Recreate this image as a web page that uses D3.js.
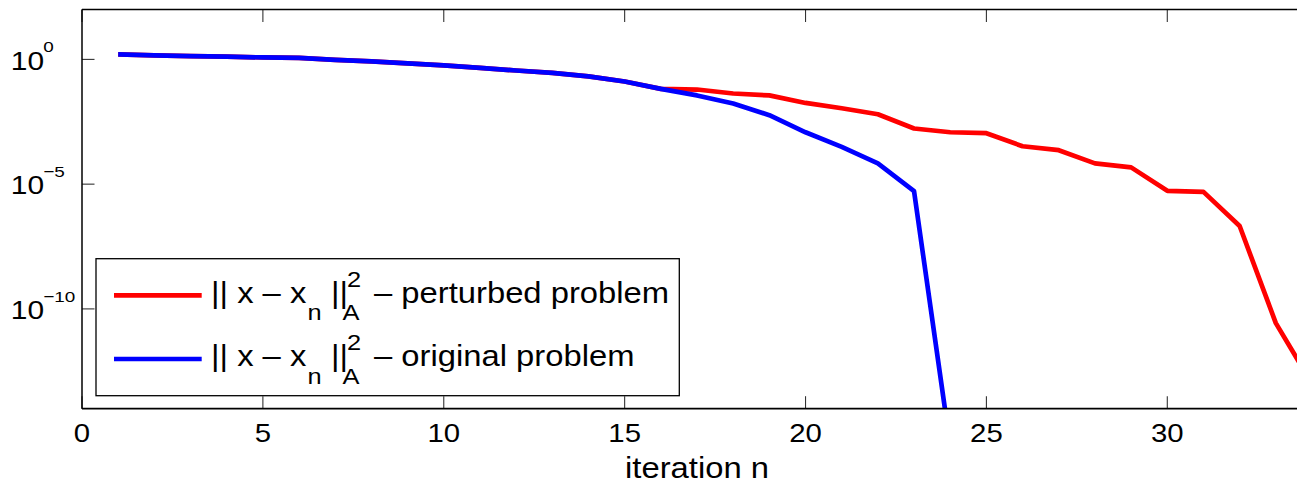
<!DOCTYPE html>
<html>
<head>
<meta charset="utf-8">
<script src="https://cdn.jsdelivr.net/npm/d3@7"></script>
<style>
  html, body { margin: 0; padding: 0; background: #fff; }
  svg { display: block; }
  text { font-family: "Liberation Sans", Arial, Helvetica, sans-serif; fill: #000; white-space: pre; }
</style>
</head>
<body>
<svg id="chart" width="1297" height="485"></svg>
<script>
// ---------------- data ----------------
const iterPerturbed = [1,2,3,4,5,6,7,8,9,10,11,12,13,14,15,16,17,18,19,20,21,22,23,24,25,26,27,28,29,30,31,32,33,34];
const errPerturbed  = [1.58,1.45,1.35,1.29,1.2,1.15,0.95,0.83,0.69,0.58,0.46,0.36,0.29,0.21,0.13,0.066,
                       0.062,0.043,0.036,0.018,0.011,6.3e-3,1.7e-3,1.2e-3,1.1e-3,3.3e-4,2.3e-4,6.8e-5,4.7e-5,
                       5.4e-6,4.9e-6,2.1e-7,2.7e-11,1e-13];
const iterOriginal  = [1,2,3,4,5,6,7,8,9,10,11,12,13,14,15,16,17,18,19,20,21,22,23,24];
const errOriginal   = [1.58,1.45,1.35,1.29,1.2,1.15,0.95,0.83,0.69,0.58,0.46,0.36,0.29,0.21,0.13,0.066,
                       0.036,0.017,5.8e-3,1.2e-3,3.1e-4,6.8e-5,5.2e-6,3.2e-16];
const xTicks = [0,5,10,15,20,25,30];
const yTicks = [1e0,1e-5,1e-10];
const yTickExponents = ["0","\u22125","\u221210"];
const seriesNames = ["perturbed problem","original problem"];
const seriesColors = ["#ff0000","#0000ff"];
const xLabel = "iteration n";

// ---------------- layout ----------------
const svg = d3.select("#chart");
const L = 82, T = 9.5, B = 408.7, R = 1312;
const x = d3.scaleLinear().domain([0,34]).range([L,R]);
const y = d3.scaleLog().domain([1e-14,1e2]).range([B,T]);
const SX = 1.13; // horizontal stretch of the reference's glyphs

function txt(parent, str, tx, ty, size, anchor, sx) {
  return parent.append("text")
    .attr("transform", `translate(${tx},${ty}) scale(${sx || SX},1)`)
    .attr("x",0).attr("y",0).attr("font-size",size)
    .attr("text-anchor", anchor || "start").text(str);
}

svg.append("defs").append("clipPath").attr("id","clip")
  .append("rect").attr("x",L).attr("y",T).attr("width",R-L).attr("height",B-T);

// ticks (inward, bottom + top, left)
const tickLen = 12.5;
const tickG = svg.append("g").attr("stroke","#333").attr("stroke-width",1.1);
xTicks.forEach(t => {
  tickG.append("line").attr("x1",x(t)).attr("x2",x(t)).attr("y1",B).attr("y2",B-tickLen);
  tickG.append("line").attr("x1",x(t)).attr("x2",x(t)).attr("y1",T).attr("y2",T+tickLen);
});
yTicks.forEach(t => {
  tickG.append("line").attr("x1",L).attr("x2",L+tickLen).attr("y1",y(t)).attr("y2",y(t));
});

// lines
const line = d3.line().x(d => x(d[0])).y(d => y(d[1]));
const plotG = svg.append("g").attr("clip-path","url(#clip)");
const dataSets = [
  d3.zip(iterPerturbed, errPerturbed),
  d3.zip(iterOriginal, errOriginal)
];
dataSets.forEach((ds,i) => {
  plotG.append("path").datum(ds).attr("d",line)
    .attr("fill","none").attr("stroke",seriesColors[i])
    .attr("stroke-width",4.7).attr("stroke-linejoin","round");
});

// axes box (left, top, bottom)
svg.append("line").attr("x1",L).attr("x2",L).attr("y1",T).attr("y2",B)
  .attr("stroke","#000").attr("stroke-width",1.5);
svg.append("line").attr("x1",L).attr("x2",R).attr("y1",T).attr("y2",T)
  .attr("stroke","#000").attr("stroke-width",1.5);
svg.append("line").attr("x1",L).attr("x2",R).attr("y1",B).attr("y2",B)
  .attr("stroke","#000").attr("stroke-width",1.8);

// x tick labels
xTicks.forEach(t => txt(svg, String(t), x(t), 442.3, 26, "middle"));
// x label
txt(svg, xLabel, 697, 478.3, 29, "middle");

// y tick labels
yTicks.forEach((t,i) => {
  txt(svg, "10", 10.8, y(t)+10.3, 26.5, "start");
  txt(svg, yTickExponents[i], 43.3, y(t)-7.2, 15.5, "start", 1.22);
});

// legend
const lg = svg.append("g");
lg.append("rect").attr("x",96).attr("y",258.7).attr("width",583.3).attr("height",137)
  .attr("fill","#fff").attr("stroke","#000").attr("stroke-width",1.3);
const rowY = [295.3, 359];
seriesNames.forEach((name,i) => {
  const dy = rowY[i] - rowY[0];
  lg.append("line").attr("x1",114).attr("x2",201.7).attr("y1",rowY[i]).attr("y2",rowY[i])
    .attr("stroke",seriesColors[i]).attr("stroke-width",4.7);
  txt(lg, "|| x \u2013 x", 211, 302.5 + dy, 29);
  txt(lg, "n", 307.5, 320 + dy, 22.5);
  txt(lg, "||", 331, 302.5 + dy, 29);
  txt(lg, "A", 342.5, 320 + dy, 22.5);
  txt(lg, "2", 347, 286.7 + dy, 22.5);
  txt(lg, "\u2013 " + name, 374, 302.5 + dy, 29);
});
</script>
</body>
</html>
